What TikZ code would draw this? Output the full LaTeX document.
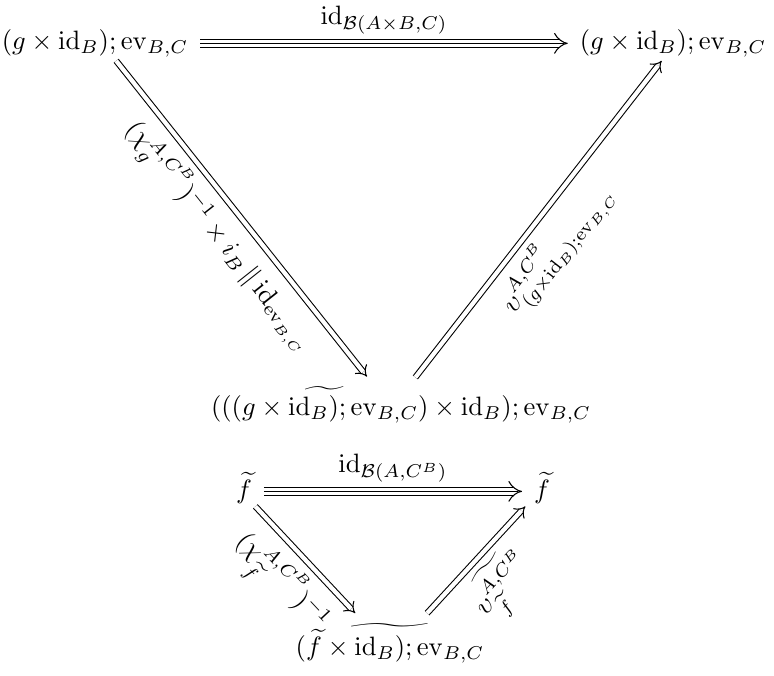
\documentclass[tikz,border=0pt]{standalone}
\usepackage{graphicx}
\usetikzlibrary{arrows.meta}

% wide tilde over a whole expression: #1 stretch, #2 lift, #3 expression
\newcommand{\widetil}[3]{\ooalign{\hidewidth\raisebox{#2}{\scalebox{#1}[1]{$\widetilde{\hphantom{MM}}$}}\hidewidth\cr$#3$\cr}}

\begin{document}
\begin{tikzpicture}[
    text=black,
    obj/.style={anchor=base, inner xsep=1ex, inner ysep=1pt},
    dbl/.style={double, double distance=1.6pt, -{Implies}},
    trpl/.style={double, double distance=2.4pt, -{Implies}},
    midline/.style={shorten >=1.6pt}
]

\useasboundingbox (0, 0) rectangle (10.232, 8.924);

% ==================== UPPER TRIANGLE ====================
\node[obj] (topl) at (1.256, 8.263) {$(g \times \mathrm{id}_B);\mathrm{ev}_{B,C}$};
\node[obj] (topr) at (8.897, 8.263) {$(g \times \mathrm{id}_B);\mathrm{ev}_{B,C}$};
\node[obj] (bot) at (5.301, 3.437)
    {$((\widetilde{(g \times \mathrm{id}_B);\mathrm{ev}_{B,C}}) \times \mathrm{id}_B);\mathrm{ev}_{B,C}$};

% Triple arrow
\draw[trpl] ([yshift=2.5pt]topl.base east) -- ([yshift=2.5pt]topr.base west)
    node[midway, above] {$\mathrm{id}_{\mathcal{B}(A \times B, C)}$};
\draw[midline] ([yshift=2.5pt]topl.base east) -- ([yshift=2.5pt]topr.base west);

% Double arrows
\draw[dbl] ([xshift=0.28cm]topl.south) -- ([xshift=-0.45cm, yshift=0.09cm]bot.north)
    node[midway, sloped, below]
    {$(\chi_g^{A,C^B})^{-1} \times i_B \,\|\, \mathrm{id}_{\mathrm{ev}_{B,C}}$};
\draw[dbl] ([xshift=0.19cm, yshift=0.08cm]bot.north) -- ([xshift=-0.15cm]topr.south)
    node[pos=0.47, sloped, below]
    {$\upsilon^{A,C^B}_{(g \times \mathrm{id}_B);\mathrm{ev}_{B,C}}$};

% ==================== LOWER TRIANGLE ====================
\node[obj] (fl) at (3.226, 2.34) {$\widetilde{f}$};
\node[obj] (fr) at (7.165, 2.34) {$\widetilde{f}$};
\node[obj] (fb) at (5.156, 0.264)
    {$\widetil{2.0}{4.5pt}{(\widetilde{f} \times \mathrm{id}_B);\mathrm{ev}_{B,C}}$};

% Triple arrow
\draw[trpl] ([yshift=2.5pt]fl.base east) -- ([yshift=2.5pt]fr.base west)
    node[midway, above] {$\mathrm{id}_{\mathcal{B}(A, C^B)}$};
\draw[midline] ([yshift=2.5pt]fl.base east) -- ([yshift=2.5pt]fr.base west);

% Double arrows
\draw[dbl] ([xshift=0.15cm]fl.south) -- ([xshift=-0.46cm, yshift=0.09cm]fb.north)
    node[midway, sloped, below] {$(\chi_{\widetilde{f}}^{A,C^B})^{-1}$};
\draw[dbl] ([xshift=0.49cm, yshift=0.09cm]fb.north) -- ([xshift=-0.22cm]fr.south)
    node[midway, sloped, below] {$\widetilde{\upsilon^{A,C^B}_{\widetilde{f}}}$};

\end{tikzpicture}
\end{document}
